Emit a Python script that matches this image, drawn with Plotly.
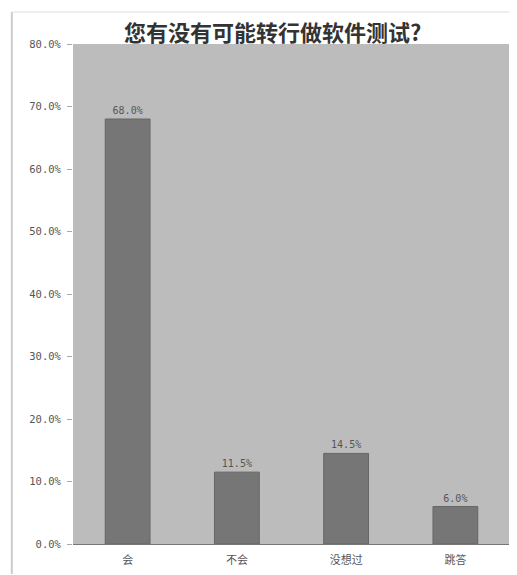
import plotly.graph_objects as go

categories = ["会", "不会", "没想过", "跳答"]
values = [68.0, 11.5, 14.5, 6.0]
tick_vals = [0, 10, 20, 30, 40, 50, 60, 70, 80]
tick_text = ["0.0%", "10.0%", "20.0%", "30.0%", "40.0%", "50.0%", "60.0%", "70.0%", "80.0%"]
title_text = "您有没有可能转行做软件测试?"

fig = go.Figure(go.Bar(
    x=categories, y=values,
    marker=dict(color="#767676", line=dict(color="#666666", width=1)),
    text=[f"{v:.1f}%" for v in values],
    textposition="outside",
    textfont=dict(size=10, color="#555555", family="DejaVu Sans Mono"),
    cliponaxis=False,
))

fig.update_layout(
    width=509, height=567,
    margin=dict(l=65, r=7, t=36, b=31),
    paper_bgcolor="white",
    plot_bgcolor="#bcbcbc",
    bargap=0.59,
    showlegend=False,
    title=dict(text=title_text, x=0.52, xanchor="center", y=0.956, yanchor="middle",
               font=dict(size=22, color="#333333", family="Noto Sans CJK SC", weight="bold")),
    xaxis=dict(showgrid=False, showline=True, linecolor="#777777", linewidth=1,
               tickfont=dict(size=11, color="#555555", family="Noto Sans CJK SC"),
               ticks="", zeroline=False, ticklabelstandoff=6),
    yaxis=dict(range=[0, 80], tickvals=tick_vals, ticktext=tick_text, showgrid=False,
               showline=False, zeroline=False, ticks="outside", ticklen=5, tickcolor="#aaaaaa",
               ticklabelstandoff=4,
               tickfont=dict(size=10.5, color="#555555", family="DejaVu Sans Mono")),
    shapes=[
        dict(type="line", xref="paper", yref="paper", x0=-0.14, x1=-0.14, y0=-0.06, y1=1.064,
             line=dict(color="#cccccc", width=2)),
        dict(type="line", xref="paper", yref="paper", x0=-0.14, x1=1.02, y0=1.064, y1=1.064,
             line=dict(color="#dddddd", width=1)),
    ],
)

fig.write_html("out.html")
